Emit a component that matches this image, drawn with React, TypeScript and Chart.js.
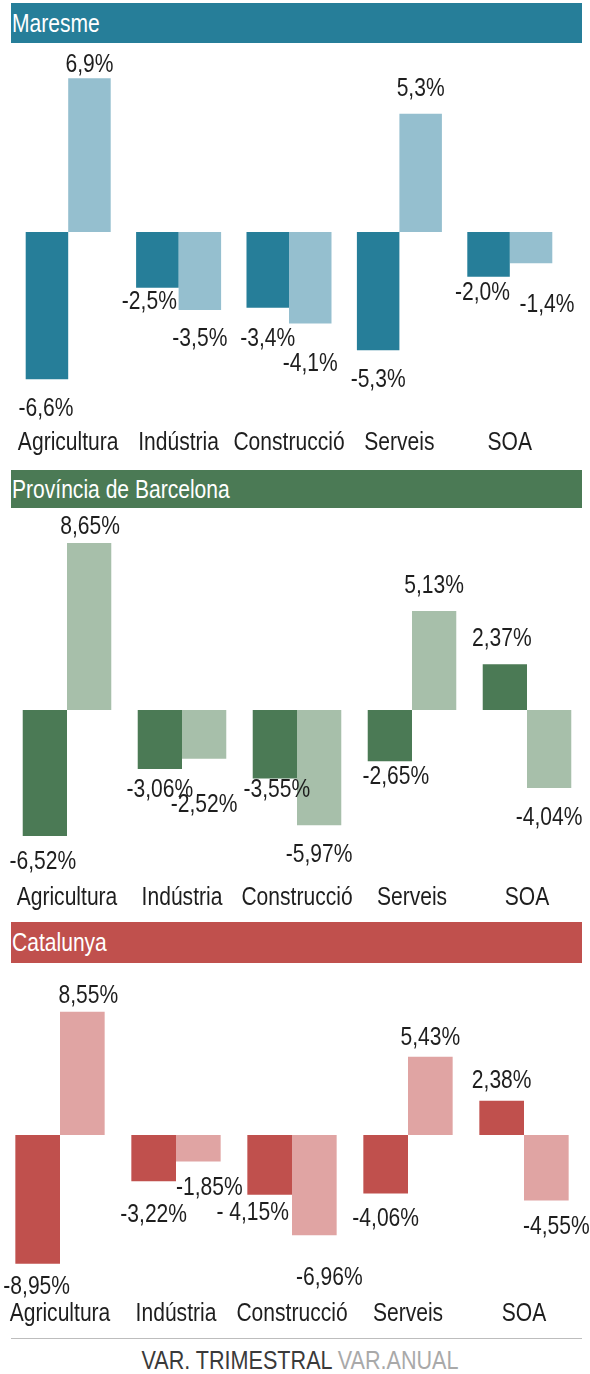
import React, { useEffect, useRef } from "react";
import { Chart, registerables } from "chart.js";

Chart.register(...registerables);

const FONT = '"Liberation Sans", Arial, sans-serif';
const SQUEEZE = 0.81;

const categories = ["Agricultura", "Indústria", "Construcció", "Serveis", "SOA"];

const maresmeTrimestral = [-6.6, -2.5, -3.4, -5.3, -2.0];
const maresmeAnual = [6.9, -3.5, -4.1, 5.3, -1.4];
const maresmeTrimLabels = ["-6,6%", "-2,5%", "-3,4%", "-5,3%", "-2,0%"];
const maresmeAnualLabels = ["6,9%", "-3,5%", "-4,1%", "5,3%", "-1,4%"];

const barcelonaTrimestral = [-6.52, -3.06, -3.55, -2.65, 2.37];
const barcelonaAnual = [8.65, -2.52, -5.97, 5.13, -4.04];
const barcelonaTrimLabels = ["-6,52%", "-3,06%", "-3,55%", "-2,65%", "2,37%"];
const barcelonaAnualLabels = ["8,65%", "-2,52%", "-5,97%", "5,13%", "-4,04%"];

const catalunyaTrimestral = [-8.95, -3.22, -4.15, -4.06, 2.38];
const catalunyaAnual = [8.55, -1.85, -6.96, 5.43, -4.55];
const catalunyaTrimLabels = ["-8,95%", "-3,22%", "- 4,15%", "-4,06%", "2,38%"];
const catalunyaAnualLabels = ["8,55%", "-1,85%", "-6,96%", "5,43%", "-4,55%"];

// label nudges [dx, dy] from the bar tip (styling only)
const maresmeTrimNudge = [[-1, 30], [-8, 14], [0, 31], [0, 30], [-6, 16]];
const maresmeAnualNudge = [[0, -13], [0, 29], [0, 40], [0, -25], [16, 42]];
const barcelonaTrimNudge = [[-2, 26], [0, 21], [2, 11], [6, 16], [-3, -25]];
const barcelonaAnualNudge = [[1, -16], [0, 46], [0, 30], [0, -25], [0, 30]];
const catalunyaTrimNudge = [[-1, 23], [0, 34], [-17, 18], [0, 25], [0, -20]];
const catalunyaAnualNudge = [[6, -16], [11, 26], [15, 43], [0, -19], [10, 26]];

type Panel = {
  title: string;
  headerColor: string;
  headerTop: number;
  headerHeight: number;
  dark: string;
  light: string;
  trim: number[];
  anual: number[];
  trimLabels: string[];
  anualLabels: string[];
  trimNudge: number[][];
  anualNudge: number[][];
  top: number;
  height: number;
  padLeft: number;
  padRight: number;
  yMin: number;
  yMax: number;
  catY: number;
};

const panels: Panel[] = [
  {
    title: "Maresme",
    headerColor: "#267e99",
    headerTop: 3,
    headerHeight: 40,
    dark: "#267e99",
    light: "#95bfcf",
    trim: maresmeTrimestral,
    anual: maresmeAnual,
    trimLabels: maresmeTrimLabels,
    anualLabels: maresmeAnualLabels,
    trimNudge: maresmeTrimNudge,
    anualNudge: maresmeAnualNudge,
    top: 43,
    height: 425,
    padLeft: 13,
    padRight: 25,
    yMin: -10.58,
    yMax: 8.475,
    catY: 400,
  },
  {
    title: "Província de Barcelona",
    headerColor: "#4b7a55",
    headerTop: 470,
    headerHeight: 38,
    dark: "#4b7a55",
    light: "#a7bfaa",
    trim: barcelonaTrimestral,
    anual: barcelonaAnual,
    trimLabels: barcelonaTrimLabels,
    anualLabels: barcelonaAnualLabels,
    trimNudge: barcelonaTrimNudge,
    anualNudge: barcelonaAnualNudge,
    top: 508,
    height: 413,
    padLeft: 9.5,
    padRight: 5.5,
    yMin: -10.93,
    yMax: 10.47,
    catY: 390,
  },
  {
    title: "Catalunya",
    headerColor: "#c0504d",
    headerTop: 922,
    headerHeight: 41,
    dark: "#c0504d",
    light: "#e0a4a3",
    trim: catalunyaTrimestral,
    anual: catalunyaAnual,
    trimLabels: catalunyaTrimLabels,
    anualLabels: catalunyaAnualLabels,
    trimNudge: catalunyaTrimNudge,
    anualNudge: catalunyaAnualNudge,
    top: 963,
    height: 373,
    padLeft: 2,
    padRight: 8,
    yMin: -13.96,
    yMax: 11.94,
    catY: 351,
  },
];

function squeezedText(ctx: CanvasRenderingContext2D, text: string, x: number, y: number) {
  ctx.save();
  ctx.translate(x, y);
  ctx.scale(SQUEEZE, 1);
  ctx.fillText(text, 0, 0);
  ctx.restore();
}

function PanelChart({ p }: { p: Panel }) {
  const ref = useRef<HTMLCanvasElement | null>(null);
  useEffect(() => {
    if (!ref.current) return;
    const labelPlugin = {
      id: "labels" + p.title.replace(/\s/g, ""),
      afterDatasetsDraw(chart: any) {
        const ctx = chart.ctx as CanvasRenderingContext2D;
        ctx.save();
        ctx.font = "26px " + FONT;
        ctx.fillStyle = "#1e1e1e";
        ctx.textAlign = "center";
        ctx.textBaseline = "middle";
        const texts = [p.trimLabels, p.anualLabels];
        const nudges = [p.trimNudge, p.anualNudge];
        for (let d = 0; d < 2; d++) {
          const meta = chart.getDatasetMeta(d);
          meta.data.forEach((el: any, j: number) => {
            const [dx, dy] = nudges[d][j];
            squeezedText(ctx, texts[d][j], el.x + dx, el.y + dy);
          });
        }
        const xs = chart.scales.x;
        categories.forEach((c, j) => {
          squeezedText(ctx, c, xs.getPixelForValue(j), p.catY);
        });
        ctx.restore();
      },
    };
    const chart = new Chart(ref.current, {
      type: "bar",
      data: {
        labels: categories,
        datasets: [
          { label: "VAR. TRIMESTRAL", data: p.trim, backgroundColor: p.dark, borderWidth: 0 },
          { label: "VAR.ANUAL", data: p.anual, backgroundColor: p.light, borderWidth: 0 },
        ],
      },
      options: {
        responsive: false,
        animation: false,
        devicePixelRatio: 1,
        layout: { padding: { left: p.padLeft, right: p.padRight, top: 0, bottom: 0 } },
        datasets: { bar: { categoryPercentage: 0.77, barPercentage: 1 } },
        plugins: { legend: { display: false }, tooltip: { enabled: false } },
        scales: {
          x: { display: false, offset: true, grid: { display: false } },
          y: { display: false, min: p.yMin, max: p.yMax, grid: { display: false } },
        },
      },
      plugins: [labelPlugin],
    });
    return () => chart.destroy();
  }, [p]);
  return (
    <canvas
      ref={ref}
      width={590}
      height={p.height}
      style={{ position: "absolute", left: 0, top: p.top, width: 590, height: p.height }}
    />
  );
}

export default function App() {
  useEffect(() => {
    document.body.style.margin = "0";
    document.body.style.background = "#ffffff";
  }, []);
  return (
    <div style={{ position: "relative", width: 590, height: 1374, background: "#fff", overflow: "hidden", fontFamily: FONT }}>
      {panels.map((p) => (
        <React.Fragment key={p.title}>
          <div
            style={{
              position: "absolute",
              left: 11,
              top: p.headerTop,
              width: 571,
              height: p.headerHeight,
              lineHeight: p.headerHeight + "px",
              background: p.headerColor,
              color: "#fff",
              fontSize: 26,
              boxSizing: "border-box",
              whiteSpace: "nowrap",
            }}
          >
            <span style={{ display: "inline-block", transform: `scaleX(${SQUEEZE})`, transformOrigin: "0 50%", marginLeft: 1 }}>
              {p.title}
            </span>
          </div>
          <PanelChart p={p} />
        </React.Fragment>
      ))}
      <div style={{ position: "absolute", left: 11, top: 1338, width: 571, height: 1, background: "#bdbdbd" }} />
      <div
        style={{
          position: "absolute",
          left: 0,
          top: 1346,
          width: 600,
          textAlign: "center",
          fontSize: 26,
          lineHeight: "28px",
          whiteSpace: "nowrap",
        }}
      >
        <span style={{ display: "inline-block", transform: "scaleX(0.83)", transformOrigin: "50% 50%" }}>
          <span style={{ color: "#3a3a3a" }}>VAR. TRIMESTRAL</span>{" "}
          <span style={{ color: "#a9a9a9" }}>VAR.ANUAL</span>
        </span>
      </div>
    </div>
  );
}
